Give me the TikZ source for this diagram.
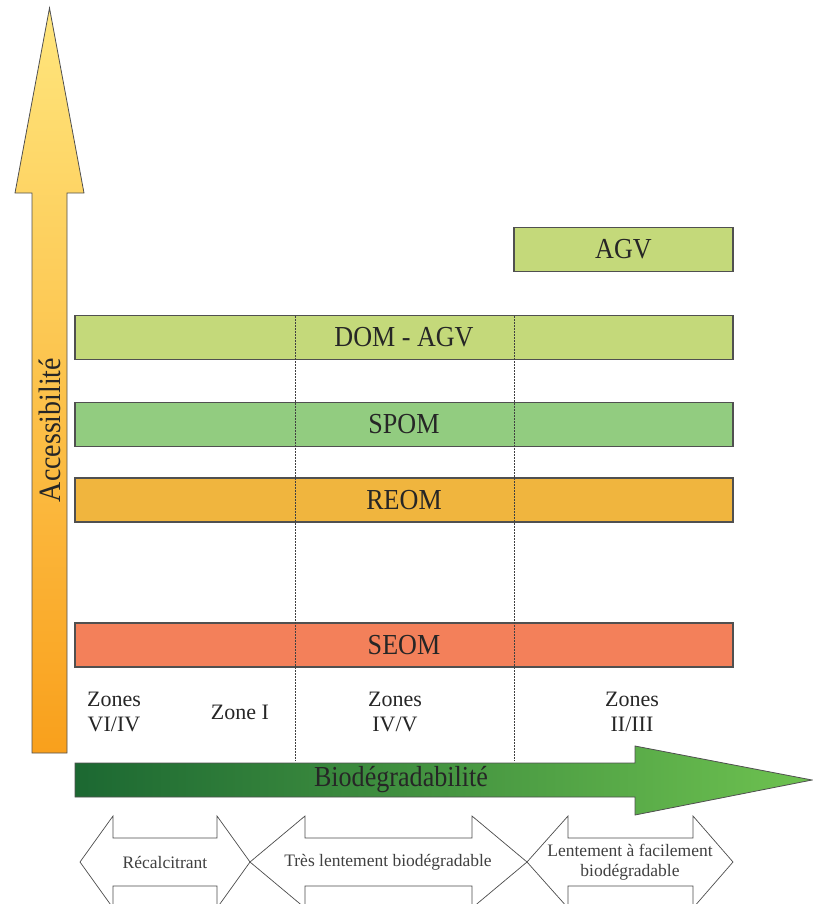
\documentclass[tikz,border=0pt]{standalone}
\usepackage{fontspec}
\setmainfont{Liberation Serif}
\definecolor{agvgreen}{RGB}{196,217,122}
\definecolor{spomgreen}{RGB}{146,204,128}
\definecolor{reomorange}{RGB}{240,181,62}
\definecolor{seomsalmon}{RGB}{243,128,90}
\definecolor{accyellow}{RGB}{255,230,125}
\definecolor{accorange}{RGB}{249,160,28}
\definecolor{biodark}{RGB}{28,104,50}
\definecolor{biolight}{RGB}{110,194,80}
\definecolor{edgegrey}{RGB}{80,80,80}
\newcommand{\narrowtext}[1]{\scalebox{0.9}[1]{#1}}
\begin{document}
\begin{tikzpicture}[x=1pt,y=-1pt,
  barbox/.style={draw=edgegrey, line width=1.2pt, minimum height=44pt, inner sep=0pt,
    font=\fontsize{29}{31}\selectfont, text=black!85},
  zonelabel/.style={align=center, font=\fontsize{22}{25}\selectfont, text=black!85},
  dblarrow/.style={fill=white, draw=black!70, line width=0.7pt, line join=miter},
  arrowtext/.style={align=center, font=\fontsize{17.5}{19.5}\selectfont, text=black!75},
  zoneline/.style={draw=black!75, line width=0.6pt, dash pattern=on 1.5pt off 1.5pt},
  bigarrow/.style={draw=edgegrey, line width=0.8pt, line join=miter}
]
\useasboundingbox (0,0) rectangle (813,904);
\clip (0,0) rectangle (813,904);

% vertical accessibility arrow
\shadedraw[bigarrow, top color=accyellow, bottom color=accorange]
  (32,753) -- (32,193) -- (15,193) -- (49.5,8) -- (84,193) -- (67,193) -- (67,753) -- cycle;
\node[rotate=90, font=\fontsize{31}{33}\selectfont, text=black!85] (acc) at (49.5,430) {\narrowtext{Accessibilité}};

% bars
\node[barbox, fill=agvgreen, minimum width=219pt] (agv) at (623.5,249.5) {\narrowtext{AGV}};
\node[barbox, fill=agvgreen, minimum width=658pt] (domagv) at (404,337.5) {\narrowtext{DOM - AGV}};
\node[barbox, fill=spomgreen, minimum width=658pt] (spom) at (404,424.5) {\narrowtext{SPOM}};
\node[barbox, fill=reomorange, minimum width=658pt] (reom) at (404,500) {\narrowtext{REOM}};
\node[barbox, fill=seomsalmon, minimum width=658pt] (seom) at (404,645) {\narrowtext{SEOM}};

% zone separators
\coordinate (s1top) at (295,316);
\coordinate (s1bot) at (295,761);
\coordinate (s2top) at (514,316);
\coordinate (s2bot) at (514,761);
\draw[zoneline] (s1top) -- (s1bot);
\draw[zoneline] (s2top) -- (s2bot);

% zone labels
\node[zonelabel] (z1) at (114,712) {Zones\\VI/IV};
\node[zonelabel] (z2) at (240,712) {Zone I};
\node[zonelabel] (z3) at (395,712) {Zones\\IV/V};
\node[zonelabel] (z4) at (632,712) {Zones\\II/III};

% horizontal biodegradability arrow
\shadedraw[bigarrow, left color=biodark, right color=biolight]
  (75,763) -- (635,763) -- (635,746) -- (812,780) -- (635,815) -- (635,797) -- (75,797) -- cycle;
\node[font=\fontsize{29}{31}\selectfont, text=black!85] (bio) at (401,780) {\narrowtext{Biodégradabilité}};

% double arrows
\draw[dblarrow] (80,862) -- (113,816) -- (113,838) -- (217,838) -- (217,816) -- (250,862)
  -- (217,908) -- (217,886) -- (113,886) -- (113,908) -- cycle;
\draw[dblarrow] (250,862) -- (305,816) -- (305,838) -- (472,838) -- (472,816) -- (527,862)
  -- (472,908) -- (472,886) -- (305,886) -- (305,908) -- cycle;
\draw[dblarrow] (527,862) -- (568,816) -- (568,838) -- (693,838) -- (693,816) -- (733,862)
  -- (693,908) -- (693,886) -- (568,886) -- (568,908) -- cycle;
\node[arrowtext] (a1) at (165,862) {Récalcitrant};
\node[arrowtext] (a2) at (388,862) {Très lentement biodégradable};
\node[arrowtext] (a3) at (630,862) {Lentement à facilement\\biodégradable};
\end{tikzpicture}
\end{document}
